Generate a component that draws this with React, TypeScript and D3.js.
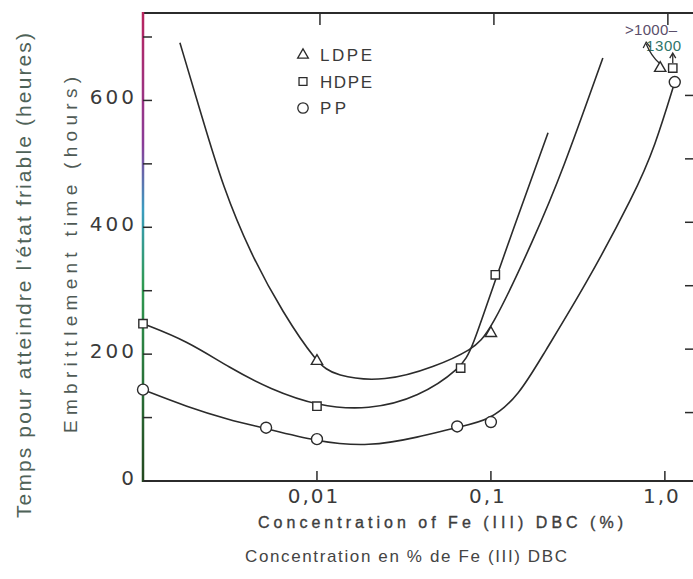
import * as d3 from "d3";

// chart size
const W = 693;
const H = 579;

// axis ticks
const yTicks = [0, 100, 200, 300, 400, 500, 600, 700];
const yLabels = [0, 200, 400, 600];
const xTicks = [0.01, 0.1, 1];
const xTickLabels = ["0,01", "0,1", "1,0"];

// measured points (concentration %, hours)
const ldpeX = [0.01, 0.1, 0.94];
const ldpeY = [189, 233, 651];
const hdpeX = [0.001, 0.01, 0.067, 0.106, 1.11];
const hdpeY = [248, 118, 178, 325, 651];
const ppX = [0.001, 0.0051, 0.01, 0.064, 0.1, 1.14];
const ppY = [144, 84, 66, 86, 93, 629];

// fitted curves
const ldpeCurveX = [0.00163, 0.00221, 0.00288, 0.00412, 0.00637, 0.01, 0.0127, 0.0246, 0.0476, 0.0778, 0.0987, 0.179, 0.256, 0.44];
const ldpeCurveY = [691, 569, 464, 360, 265, 186, 165, 156, 180, 207, 233, 385, 486, 667];
const hdpeCurveX = [0.001, 0.00179, 0.00316, 0.00537, 0.0101, 0.0199, 0.0385, 0.0673, 0.0778, 0.108, 0.213];
const hdpeCurveY = [248, 221, 178, 145, 118, 112, 132, 178, 207, 325, 549];
const ppCurveX = [0.001, 0.00179, 0.00316, 0.00489, 0.01, 0.0199, 0.0385, 0.0638, 0.0987, 0.145, 0.2, 0.346, 0.673, 0.876, 1.14];
const ppCurveY = [144, 117, 96, 84, 62, 54, 69, 85, 95, 135, 200, 306, 454, 527, 629];

const series = [
  { name: "LDPE", symbol: d3.symbolTriangle, size: 55, xs: ldpeX, ys: ldpeY, cx: ldpeCurveX, cy: ldpeCurveY },
  { name: "HDPE", symbol: d3.symbolSquare, size: 70, xs: hdpeX, ys: hdpeY, cx: hdpeCurveX, cy: hdpeCurveY },
  { name: "PP", symbol: d3.symbolCircle, size: 95, xs: ppX, ys: ppY, cx: ppCurveX, cy: ppCurveY },
];

const ink = "#2b2b2b";
const font = "'Liberation Sans', Arial, sans-serif";

export default function App() {
  // plot frame
  const left = 143;
  const right = 697;
  const top = 13;
  const bottom = 481;

  // log scale for concentration, linear for hours
  const x = d3.scaleLog().domain([0.001, 1.53]).range([left, right]);
  const y = d3.scaleLinear().domain([0, 700]).range([bottom, 37]);

  // smoothed hand-drawn fit
  const line = d3.line<[number, number]>()
    .x(d => x(d[0]))
    .y(d => y(d[1]))
    .curve(d3.curveBasis);

  const sym = (s: d3.SymbolType, size: number) => d3.symbol().type(s).size(size)() as string;

  // off-scale annotation anchors
  const triX = x(ldpeX[2]);
  const sqX = x(hdpeX[4]);
  const offY = y(651);

  return (
    <svg width={W} height={H} style={{ position: "absolute", left: 0, top: 0, background: "#fff" }}>
      <defs>
        <linearGradient id="axisGrad" gradientUnits="userSpaceOnUse" x1={0} y1={top} x2={0} y2={bottom}>
          <stop offset="0%" stopColor="#b8245e" />
          <stop offset="28%" stopColor="#8a3c98" />
          <stop offset="42%" stopColor="#3a9cc0" />
          <stop offset="58%" stopColor="#2f9a52" />
          <stop offset="100%" stopColor="#24481f" />
        </linearGradient>
      </defs>

      {/* frame */}
      <line x1={left} x2={right} y1={top} y2={top} stroke={ink} strokeWidth={2} />
      <line x1={left} x2={right} y1={bottom} y2={bottom} stroke={ink} strokeWidth={2} />
      <line x1={left} x2={left} y1={top - 1} y2={bottom + 1} stroke="url(#axisGrad)" strokeWidth={2.5} />

      {/* y ticks left and right */}
      {yTicks.map(t => (
        <line key={"yl" + t} x1={left} x2={left + 9} y1={y(t)} y2={y(t)} stroke={ink} strokeWidth={1.5} />
      ))}
      {yTicks.filter(t => t > 0 && t < 700).map(t => (
        <line key={"yr" + t} x1={right - 12} x2={right} y1={y(t) - 5} y2={y(t) - 5} stroke={ink} strokeWidth={1.5} />
      ))}
      {yLabels.map(t => (
        <text key={"ylab" + t} x={137} y={y(t) + 4} textAnchor="end" fontFamily="'DejaVu Sans', sans-serif"
          fontSize={20} fill="#3a3a3a" letterSpacing={3}>{t}</text>
      ))}

      {/* x ticks top and bottom */}
      {xTicks.map((t, i) => (
        <g key={"xt" + t}>
          <line x1={x(t)} x2={x(t)} y1={bottom} y2={bottom - 10} stroke={ink} strokeWidth={1.5} />
          <line x1={x(t) + 3} x2={x(t) + 3} y1={top} y2={top + 12} stroke={ink} strokeWidth={1.5} />
          <text x={x(t) - 3} y={503} textAnchor="middle" fontFamily="'DejaVu Sans', sans-serif" fontSize={20}
            fill="#3a3a3a" letterSpacing={2}>{xTickLabels[i]}</text>
        </g>
      ))}

      {/* curves */}
      {series.map(s => (
        <path key={"c" + s.name} d={line(s.cx.map((v, i) => [v, s.cy[i]] as [number, number])) as string}
          fill="none" stroke={ink} strokeWidth={1.6} />
      ))}

      {/* markers */}
      {series.map(s => s.xs.map((v, i) => (
        <path key={s.name + i} d={sym(s.symbol, s.size)} transform={`translate(${x(v)},${y(s.ys[i])})`}
          fill="#fff" stroke={ink} strokeWidth={1.4} />
      )))}

      {/* off-scale annotation */}
      <text x={625} y={35} fontFamily={font} fontSize={15} fill="#5a4e6a" letterSpacing={0.3}>{">1000–"}</text>
      <text x={646} y={51} fontFamily={font} fontSize={15} fill="#2f7468" letterSpacing={0.6}>1300</text>
      <path d={`M${triX - 1},${offY - 5} Q${triX - 9},${offY - 12} ${triX - 14},${offY - 24}`} fill="none" stroke={ink} strokeWidth={1.3} />
      <path d={`M${triX - 17},${offY - 20} L${triX - 14},${offY - 26} L${triX - 10},${offY - 21}`} fill="none" stroke={ink} strokeWidth={1.3} />
      <line x1={sqX} x2={sqX} y1={offY - 5} y2={offY - 14} stroke={ink} strokeWidth={1.3} />
      <path d={`M${sqX - 3},${offY - 10} L${sqX},${offY - 15} L${sqX + 3},${offY - 10}`} fill="none" stroke={ink} strokeWidth={1.3} />

      {/* legend */}
      {series.map((s, i) => (
        <g key={"lg" + s.name} transform={`translate(303,${55 + i * 26.5})`}>
          <path d={sym(s.symbol, s.size * 0.9)} fill="#fff" stroke={ink} strokeWidth={1.3} />
          <text x={17} y={6} fontFamily={font} fontSize={17} fill="#3a3a3a"
            textLength={s.name.length * 13} lengthAdjust="spacing">{s.name}</text>
        </g>
      ))}

      {/* axis titles */}
      <text x={258} y={528} fontFamily={font} fontSize={16} fill="#3d3d3d" stroke="#3d3d3d" strokeWidth={0.35}
        textLength={365} lengthAdjust="spacing">Concentration of  Fe (III) DBC (%)</text>
      <text x={245} y={562} fontFamily={font} fontSize={17} fill="#444"
        textLength={322} lengthAdjust="spacing">Concentration en % de Fe (III) DBC</text>
      <text transform="translate(31,518) rotate(-90)" fontFamily={font} fontSize={21} fill="#4f6258"
        textLength={485} lengthAdjust="spacing">Temps pour atteindre l'état friable (heures)</text>
      <text transform="translate(77,433) rotate(-90)" fontFamily={font} fontSize={19} fill="#4f5a55"
        textLength={356} lengthAdjust="spacing">Embrittlement time (hours)</text>
    </svg>
  );
}
